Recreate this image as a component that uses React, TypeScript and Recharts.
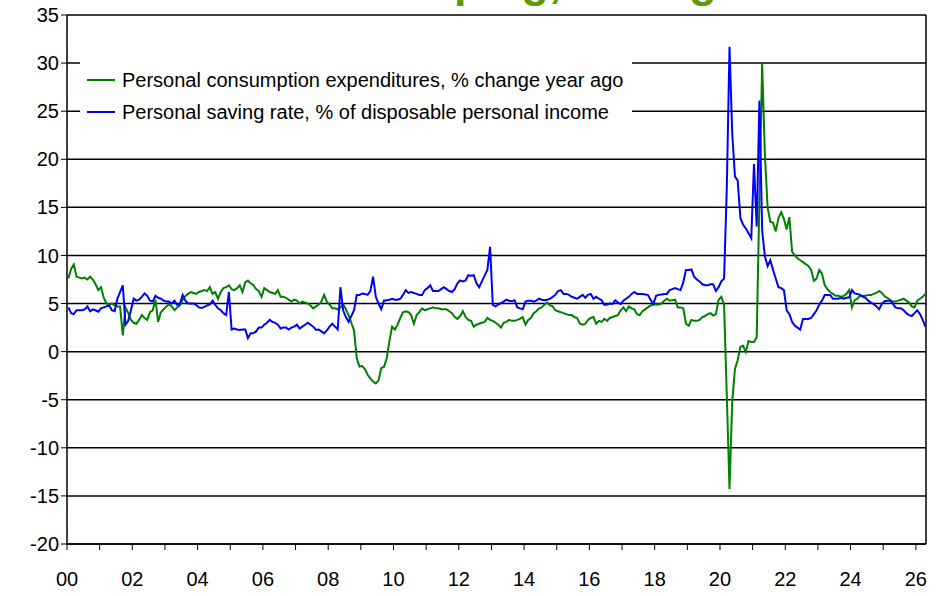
import React from 'react';
import { LineChart, Line, XAxis, YAxis, CartesianGrid, Legend, ReferenceLine } from 'recharts';

const START_YEAR = 2000;
const X_MAX = 2026.31;

// Personal consumption expenditures, % change year ago (monthly, Jan 2000 onward)
const pce2000s = [
  7.6, 8.6, 9.05, 7.8, 7.7, 7.6, 7.7, 7.5, 7.8, 7.5, 7.0, 6.4,
  6.7, 5.6, 5.0, 4.9, 5.0, 4.8, 4.7, 4.7, 1.7, 4.6, 4.0, 3.3,
  3.0, 2.9, 3.3, 3.8, 3.5, 3.3, 4.1, 4.3, 5.4, 3.1, 4.1, 4.4,
  4.7, 4.9, 4.7, 4.3, 4.6, 4.8, 5.4, 5.8, 6.0, 6.2, 6.1, 6.0,
  6.2, 6.3, 6.4, 6.3, 6.7, 6.0, 6.2, 5.5, 6.2, 6.6, 6.7, 6.9,
  6.5, 6.4, 6.6, 6.9, 6.2, 7.2, 7.4, 7.1, 6.9, 6.5, 6.3, 5.7,
  6.6, 6.4, 6.2, 6.1, 6.0, 6.4, 5.7, 5.7, 5.6, 5.4, 5.2, 5.4,
  5.3, 5.0, 5.2, 5.1, 5.0, 4.8, 4.5, 4.7, 4.9, 5.2, 5.9, 5.2,
  4.9, 4.5, 4.5, 4.4, 4.6, 4.9, 4.4, 3.8, 3.0, 2.2, -0.7, -1.55,
  -1.5, -1.8, -2.4, -2.8, -3.1, -3.3, -3.0, -1.7, -1.6, -0.7, 1.1, 2.6,
];
const pce2010s = [
  2.3, 2.8, 3.5, 4.1, 4.2, 4.1, 3.8, 2.9, 3.8, 4.1, 4.5, 4.3,
  4.4, 4.5, 4.6, 4.5, 4.5, 4.4, 4.4, 4.4, 4.2, 4.0, 3.6, 3.4,
  3.7, 4.2, 3.6, 3.3, 3.2, 2.6, 2.8, 2.9, 3.0, 3.1, 3.5, 3.3,
  3.2, 3.0, 2.8, 2.5, 3.0, 3.1, 3.3, 3.2, 3.2, 3.3, 3.4, 3.6,
  2.8, 3.3, 3.5, 4.0, 4.2, 4.5, 4.6, 4.9, 5.1, 4.8, 4.7, 4.3,
  4.2, 4.1, 4.0, 3.9, 3.8, 3.8, 3.6, 3.5, 2.9, 2.8, 2.9, 3.3,
  3.5, 3.6, 2.9, 3.2, 3.1, 3.4, 3.2, 3.5, 3.6, 3.7, 3.8, 4.3,
  4.6, 4.2, 4.7, 4.5, 4.4, 3.9, 3.8, 4.2, 4.4, 4.6, 4.8, 4.9,
  4.9, 4.9, 5.0, 5.3, 5.5, 5.3, 5.35, 5.4, 4.6, 4.6, 4.5, 2.9,
  2.7, 3.3, 3.2, 3.2, 3.3, 3.6, 3.7, 3.9, 4.0, 3.75, 3.9, 5.4,
];
const pce2020s = [
  5.7, 4.9, -4.5, -14.3, -5.2, -1.8, -0.9, 0.5, 0.6, -0.05, 1.1, 1.0,
  1.0, 1.5, 16.0, 29.9, 20.5, 15.0, 13.5, 13.4, 12.5, 13.9, 14.5, 13.8,
  12.7, 14.0, 10.4, 10.0, 9.7, 9.5, 9.3, 9.1, 8.9, 8.5, 7.35, 7.6,
  8.5, 8.1, 6.9, 6.5, 6.2, 6.0, 5.8, 5.8, 5.7, 5.8, 6.0, 6.4,
  4.6, 5.35, 5.5, 5.8, 5.8, 5.8, 5.9, 5.9, 6.0, 6.1, 6.3, 6.1,
  5.75, 5.6, 5.4, 5.2, 5.2, 5.3, 5.4, 5.5, 5.3, 5.1, 4.7, 4.6,
  5.3, 5.5, 5.7, 6.0,
];

// Personal saving rate, % of disposable personal income (monthly, Jan 2000 onward)
const saving2000s = [
  4.6, 4.0, 3.9, 4.3, 4.3, 4.3, 4.4, 4.7, 4.2, 4.4, 4.3, 4.15,
  4.5, 4.6, 4.7, 4.8, 4.3, 4.2, 5.5, 6.2, 6.9, 2.8, 3.2, 4.3,
  5.5, 5.3, 5.4, 5.7, 6.05, 5.8, 5.3, 5.2, 5.8, 5.6, 5.5, 5.3,
  5.2, 5.2, 5.0, 5.3, 4.85, 5.0, 5.9, 5.3, 5.0, 5.0, 5.0, 4.85,
  4.6, 4.55, 4.65, 4.8, 4.9, 5.3, 4.85, 4.5, 4.3, 4.0, 3.8, 6.2,
  2.3, 2.4, 2.3, 2.25, 2.3, 2.3, 1.4, 1.9, 1.9, 2.1, 2.5, 2.5,
  2.8, 3.0, 3.3, 3.1, 3.0, 2.8, 2.4, 2.5, 2.5, 2.3, 2.5, 2.6,
  2.8, 2.4, 2.6, 2.8, 3.0, 2.8, 2.6, 2.25, 2.3, 2.1, 1.9, 2.2,
  2.6, 2.9, 2.6, 2.3, 6.7, 4.3, 3.6, 3.1, 3.7, 4.3, 5.9, 5.9,
  6.05, 6.0, 5.9, 6.3, 7.8, 5.7, 5.0, 4.4, 5.3, 5.35, 5.4, 5.5,
];
const saving2010s = [
  5.4, 5.4, 5.5, 5.9, 6.4, 6.1, 6.2, 6.1, 6.0, 5.9, 5.9, 6.4,
  6.6, 6.9, 6.3, 6.3, 6.3, 6.5, 6.7, 6.5, 6.3, 6.2, 6.5, 7.1,
  7.4, 7.3, 7.4, 7.95, 7.9, 7.95, 7.1, 6.7, 7.3, 7.9, 8.5, 10.9,
  4.85, 4.7, 4.9, 5.05, 5.2, 5.4, 5.3, 5.25, 5.35, 4.6, 4.5, 4.4,
  5.2, 5.3, 5.3, 5.2, 5.3, 5.5, 5.4, 5.35, 5.4, 5.5, 5.7, 5.9,
  6.3, 6.4, 6.0, 6.0, 5.9, 5.7, 5.6, 5.5, 5.7, 5.9, 5.6, 5.9,
  6.0, 5.5, 5.7, 5.5, 5.35, 4.85, 4.9, 5.0, 4.95, 5.35, 5.1, 4.95,
  5.3, 5.5, 5.7, 6.0, 6.2, 6.0, 6.0, 6.0, 5.95, 5.9, 5.4, 4.95,
  5.8, 5.9, 5.95, 6.0, 6.0, 6.4, 6.5, 6.6, 6.5, 6.4, 7.2, 8.5,
  8.5, 8.55, 7.8, 7.5, 7.3, 7.0, 6.9, 6.9, 7.0, 7.0, 6.3, 6.7,
];
const saving2020s = [
  7.3, 7.6, 17.0, 31.7, 22.7, 18.2, 17.8, 13.9, 13.2, 12.8, 12.3, 11.8,
  19.5, 13.0, 26.1, 12.6, 9.9, 8.9, 9.5, 8.5, 7.6, 6.7, 6.6, 6.4,
  4.3, 3.9, 3.1, 2.7, 2.5, 2.3, 3.4, 3.4, 3.4, 3.5, 3.9, 4.3,
  4.9, 5.3, 5.9, 5.9, 5.9, 5.5, 5.5, 5.5, 5.6, 5.5, 5.6, 5.65,
  6.4, 6.05, 6.0, 5.9, 5.7, 5.6, 5.3, 5.1, 4.95, 4.7, 4.4, 5.0,
  5.25, 5.3, 5.3, 5.0, 4.6, 4.5, 4.5, 4.3, 4.0, 3.8, 3.7, 4.0,
  4.3, 3.9, 3.3, 2.6,
];

const yTicks = [-20, -15, -10, -5, 0, 5, 10, 15, 20, 25, 30, 35];
const xTicks = [
  2000, 2001, 2002, 2003, 2004, 2005, 2006, 2007, 2008, 2009, 2010, 2011, 2012, 2013,
  2014, 2015, 2016, 2017, 2018, 2019, 2020, 2021, 2022, 2023, 2024, 2025, 2026,
];

const seriesNames = {
  pce: 'Personal consumption expenditures, % change year ago',
  saving: 'Personal saving rate, % of disposable personal income',
};
const titleText = 'Consumers slumping, saving';

const pce = [...pce2000s, ...pce2010s, ...pce2020s];
const saving = [...saving2000s, ...saving2010s, ...saving2020s];
const data = pce.map((v, i) => ({
  t: START_YEAR + (i + 0.5) / 12,
  pce: v,
  saving: saving[i],
}));

const FONT = '"Liberation Sans", Arial, sans-serif';
const GREEN = '#008000';
const BLUE = '#0000FF';

const xLabel = (v: number) => (Math.round(v) % 2 === 0 ? String(Math.round(v) % 100).padStart(2, '0') : '');

const LegendBox = () => (
  <div style={{ width: 552, height: 66, background: '#fff' }}>
    <svg width={552} height={66} style={{ display: 'block' }}>
      <line x1={7} x2={35} y1={22} y2={22} stroke={GREEN} strokeWidth={2} />
      <text x={42} y={22} dy="0.35em" fontSize={20} fontFamily={FONT} fill="#000">
        {seriesNames.pce}
      </text>
      <line x1={7} x2={35} y1={54} y2={54} stroke={BLUE} strokeWidth={2} />
      <text x={42} y={54} dy="0.35em" fontSize={20} fontFamily={FONT} fill="#000">
        {seriesNames.saving}
      </text>
    </svg>
  </div>
);

export default function App() {
  return (
    <div
      style={{
        position: 'absolute',
        left: 0,
        top: 0,
        width: 948,
        height: 596,
        overflow: 'hidden',
        background: '#fff',
        fontFamily: FONT,
      }}
    >
      <div
        style={{
          position: 'absolute',
          left: 89,
          top: -41,
          fontSize: 45,
          lineHeight: '45px',
          fontWeight: 'bold',
          color: '#5E9A0A',
          whiteSpace: 'nowrap',
          fontFamily: FONT,
        }}
      >
        {titleText}
      </div>
      <LineChart
        width={948}
        height={596}
        data={data}
        margin={{ top: 15, right: 22, bottom: 12, left: 0 }}
      >
        <CartesianGrid horizontal vertical={false} stroke="#000" strokeWidth={1.5} />
        <XAxis
          dataKey="t"
          type="number"
          domain={[START_YEAR, X_MAX]}
          ticks={xTicks}
          tickFormatter={xLabel}
          interval={0}
          height={40}
          tickSize={6}
          tickMargin={22}
          axisLine={{ stroke: '#000', strokeWidth: 1.5 }}
          tickLine={{ stroke: '#000', strokeWidth: 1 }}
          tick={{ fontSize: 20, fill: '#000', fontFamily: FONT }}
          allowDataOverflow
        />
        <YAxis
          type="number"
          domain={[-20, 35]}
          ticks={yTicks}
          interval={0}
          width={67}
          tickSize={6}
          tickMargin={2}
          axisLine={{ stroke: '#000', strokeWidth: 1.5 }}
          tickLine={{ stroke: '#000', strokeWidth: 1 }}
          tick={{ fontSize: 20, fill: '#000', fontFamily: FONT }}
        />
        <ReferenceLine x={X_MAX} stroke="#000" strokeWidth={1.5} />
        <Legend
          layout="vertical"
          align="center"
          verticalAlign="middle"
          content={<LegendBox />}
          wrapperStyle={{ left: 80, top: 58, width: 552, height: 66 }}
        />
        <Line
          type="linear"
          dataKey="pce"
          name={seriesNames.pce}
          stroke={GREEN}
          strokeWidth={2}
          dot={false}
          isAnimationActive={false}
        />
        <Line
          type="linear"
          dataKey="saving"
          name={seriesNames.saving}
          stroke={BLUE}
          strokeWidth={2}
          dot={false}
          isAnimationActive={false}
        />
      </LineChart>
    </div>
  );
}
